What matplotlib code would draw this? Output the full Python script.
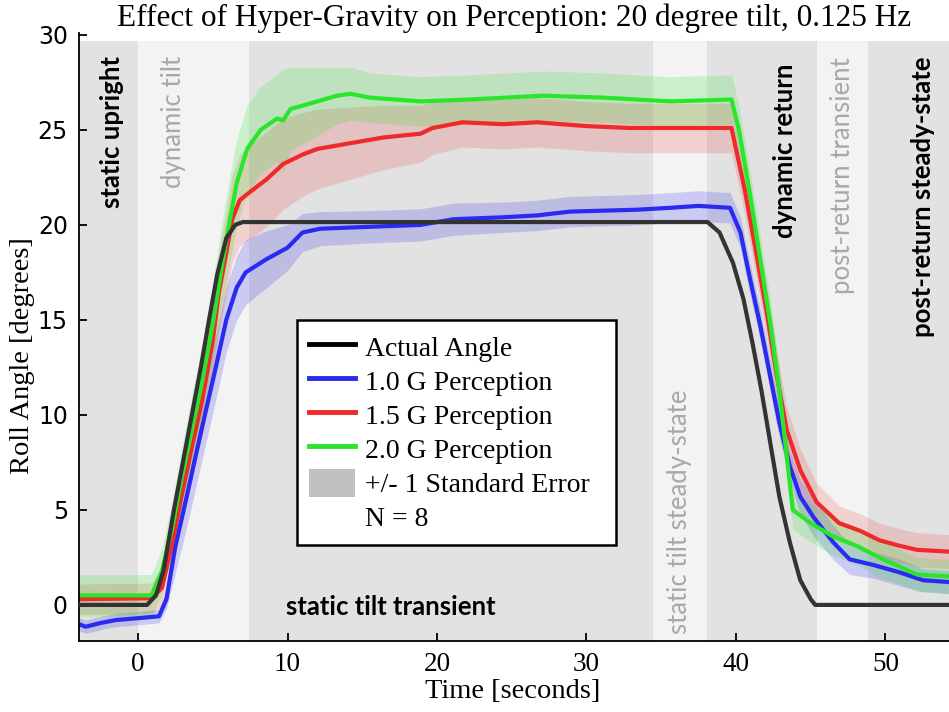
import numpy as np
from matplotlib import pyplot as plt
from matplotlib.lines import Line2D
from matplotlib.patches import Patch

# Trial phases (seconds), shading and labels
phase_edges = [-4, 0, 7.4, 34.45, 38.05, 45.4, 48.8, 55]
phase_shade = ['dark', 'light', 'dark', 'light', 'dark', 'light', 'dark']

# Actual roll angle
t_actual = [-4, 0.6, 1.2, 1.7, 2.4, 3.0, 3.6, 4.2, 4.75, 5.3, 5.9, 6.5, 7.0,
            38.1, 38.9, 39.8, 40.5, 41.1, 41.7, 42.3, 42.9, 43.6, 44.3, 45.0,
            45.3, 55]
actual = [0, 0, 0.5, 1.8, 5.0, 7.5, 10.0, 12.5, 15.0, 17.4, 19.3, 20.0, 20.15,
          20.15, 19.6, 18.0, 16.1, 13.8, 11.3, 8.5, 5.7, 3.3, 1.3, 0.3,
          0, 0]

# 1.0 G perception (mean and standard error)
t_g10 = [-4, -3.5, -2.5, -1.5, 0, 1.4, 1.9, 2.5, 3.2, 3.9, 4.5, 5.2, 5.9, 6.6,
         7.2, 8.6, 10.0, 11.0, 12.2, 15.5, 18.9, 21.1, 24.4, 26.7, 28.9, 33.4,
         35.6, 37.5, 39.6, 40.3, 40.9, 41.6, 42.3, 42.9, 43.6, 44.3, 45.2,
         46.5, 47.6, 49.2, 51.0, 52.5, 54.3]
g10 = [-1.0, -1.15, -0.95, -0.8, -0.7, -0.6, 0.3, 3.1, 5.5, 8.0, 10.1, 12.5,
       15.0, 16.7, 17.5, 18.2, 18.8, 19.6, 19.8, 19.9, 20.0, 20.3, 20.4, 20.5,
       20.7, 20.8, 20.9, 21.0, 20.9, 19.6, 17.3, 14.8, 12.0, 9.6, 7.3, 5.7,
       4.6, 3.3, 2.4, 2.1, 1.7, 1.3, 1.2]
se_g10 = [0.35, 0.35, 0.35, 0.35, 0.35, 0.35, 0.5, 1.4, 1.6, 1.7, 1.7, 1.7,
          1.7, 1.7, 1.7, 1.5, 1.2, 1.0, 0.9, 0.85, 0.85, 0.85, 0.8, 0.8,
          0.8, 0.8, 0.8, 0.8, 0.8, 0.8, 0.8, 0.8, 0.8, 0.8, 0.8, 0.9,
          1.0, 0.9, 0.8, 0.7, 0.7, 0.6, 0.6]

# 1.5 G perception
t_g15 = [-4, 0.9, 1.6, 2.3, 2.9, 3.6, 4.3, 5.0, 5.4, 5.9, 6.3, 6.8, 7.6, 8.6,
         9.7, 11.0, 12.0, 14.2, 16.4, 18.9, 19.7, 21.7, 24.4, 26.7, 30.0,
         32.9, 35.6, 39.7, 40.6, 41.4, 42.1, 42.7, 43.4, 44.3, 45.4, 46.9,
         48.3, 49.6, 51.0, 52.1, 54.3]
g15 = [0.3, 0.35, 0.9, 3.3, 5.7, 8.3, 10.8, 13.9, 16.4, 18.5, 20.3, 21.3,
       21.8, 22.4, 23.2, 23.7, 24.0, 24.3, 24.6, 24.8, 25.1, 25.4, 25.3, 25.4,
       25.2, 25.1, 25.1, 25.1, 21.8, 18.3, 15.2, 12.2, 9.2, 7.1, 5.4, 4.3,
       3.9, 3.4, 3.1, 2.9, 2.8]
se_g15 = [0.8, 0.8, 1.0, 1.3, 1.5, 1.6, 1.8, 2.0, 2.1, 2.2, 2.3, 2.4, 2.5,
          2.5, 2.4, 2.2, 2.1, 1.9, 1.7, 1.5, 1.4, 1.3, 1.3, 1.3, 1.3, 1.3,
          1.3, 1.3, 1.3, 1.3, 1.3, 1.3, 1.2, 1.1, 1.0, 0.9, 0.9, 0.9, 0.9,
          0.9, 0.9]

# 2.0 G perception
t_g20 = [-4, 0.9, 1.6, 2.3, 2.9, 3.6, 4.3, 5.0, 5.6, 6.1, 6.6, 7.3, 8.2, 9.3,
         9.7, 10.2, 12.0, 13.3, 14.2, 15.5, 18.9, 22.2, 27.1, 31.1, 35.6,
         39.7, 40.2, 40.9, 41.6, 42.3, 42.9, 43.4, 43.8, 45.0, 46.5, 48.1,
         49.8, 51.0, 52.1, 54.3]
g20 = [0.5, 0.5, 1.8, 4.1, 6.6, 9.2, 11.8, 14.8, 17.8, 20.1, 22.2, 24.0, 25.0,
       25.6, 25.5, 26.1, 26.5, 26.8, 26.9, 26.7, 26.5, 26.6, 26.8, 26.7, 26.5,
       26.6, 25.0, 21.8, 18.3, 14.8, 11.3, 7.8, 5.0, 4.3, 3.6, 3.1, 2.4, 2.0,
       1.6, 1.5]
se_g20 = [1.1, 1.1, 1.2, 1.4, 1.6, 1.8, 2.0, 2.2, 2.3, 2.3, 2.3, 2.3, 2.3,
          2.3, 2.7, 2.2, 1.8, 1.5, 1.4, 1.3, 1.3, 1.3, 1.3, 1.3, 1.3, 1.3,
          1.3, 1.3, 1.3, 1.3, 1.2, 1.1, 1.0, 1.0, 1.0, 1.0, 1.0, 0.9, 0.9,
          0.9]

x_ticks = [0, 10, 20, 30, 40, 50]
y_ticks = [0, 5, 10, 15, 20, 25, 30]

SHADE = {'dark': '#e2e2e2', 'light': '#f3f3f3'}
SANS = ['Lato', 'DejaVu Sans']
SERIF = ['Liberation Serif', 'DejaVu Serif']


def main():
    fig = plt.figure(figsize=(9.49, 7.12), dpi=100)
    ax = fig.add_axes([79 / 949, 1 - 641 / 712, 1 - 79 / 949, 608 / 712])
    ax.set_xlim(-3.95, 54.25)
    ax.set_ylim(-1.9, 30.1)

    # phase background boxes
    top = (29.7 + 1.9) / 32.0
    for x0, x1, shade in zip(phase_edges[:-1], phase_edges[1:], phase_shade):
        ax.axvspan(x0, x1, ymin=0, ymax=top, color=SHADE[shade], lw=0, zorder=0)

    # standard error bands
    for t, m, se, c, a in [(t_g10, g10, se_g10, '#2a2af0', 0.2),
                           (t_g15, g15, se_g15, '#ee2a2a', 0.17),
                           (t_g20, g20, se_g20, '#2ae62a', 0.2)]:
        m = np.array(m)
        se = np.array(se)
        ax.fill_between(t, m - se, m + se, color=c, alpha=a, lw=0, zorder=1)

    ax.plot(t_g10, g10, color='#2a2af0', lw=3, zorder=2)
    ax.plot(t_g15, g15, color='#ee2a2a', lw=3, zorder=2)
    ax.plot(t_g20, g20, color='#2ae62a', lw=3, zorder=2)
    ax.plot(t_actual, actual, color='#333333', lw=3, zorder=3)

    # phase labels
    bold = dict(family=SANS, fontsize=18.5, fontweight='bold', color='black',
                ha='center', va='center', zorder=4)
    grey = dict(family=SANS, fontsize=18.5, color='#a8a8a8',
                ha='center', va='center', zorder=4)
    ax.text(-1.75, 24.9, 'static upright', rotation=90, **bold)
    ax.text(2.35, 25.4, 'dynamic tilt', rotation=90, **grey)
    ax.text(16.9, -0.1, 'static tilt transient', **bold)
    ax.text(36.25, 4.9, 'static tilt steady-state', rotation=90, **grey)
    ax.text(43.3, 23.9, 'dynamic return', rotation=90, **bold)
    ax.text(47.1, 22.6, 'post-return transient', rotation=90, **grey)
    ax.text(52.5, 21.5, 'post-return steady-state', rotation=90, **bold)

    # axes styling
    for side in ['top', 'right']:
        ax.spines[side].set_visible(False)
    for side in ['left', 'bottom']:
        ax.spines[side].set_linewidth(1.3)
    ax.set_facecolor('white')
    ax.tick_params(direction='in', length=6, width=1.3)
    ax.set_xticks(x_ticks)
    ax.set_yticks(y_ticks)
    ax.set_xticklabels([str(v) for v in x_ticks], family=SERIF, fontsize=19.5)
    ax.set_yticklabels([str(v) for v in y_ticks], family='DejaVu Sans',
                       fontsize=17)
    ax.tick_params(axis='x', pad=8)
    ax.tick_params(axis='y', pad=8)

    ax.set_title('Effect of Hyper-Gravity on Perception: 20 degree tilt, 0.125 Hz',
                 family=SERIF, fontsize=22.5, pad=2)
    ax.set_xlabel('Time [seconds]', family=SERIF, fontsize=20.5)
    ax.set_ylabel('Roll Angle [degrees]', family=SERIF, fontsize=20.5)
    ax.xaxis.set_label_coords(0.498, -0.062)
    ax.yaxis.set_label_coords(-0.05, 0.47)

    handles = [Line2D([], [], color='black', lw=3.5),
               Line2D([], [], color='#2a2af0', lw=3.5),
               Line2D([], [], color='#ee2a2a', lw=3.5),
               Line2D([], [], color='#2ae62a', lw=3.5),
               Patch(facecolor='#c0c0c0', edgecolor='none'),
               Line2D([], [], linestyle='none')]
    labels = ['Actual Angle', '1.0 G Perception', '1.5 G Perception',
              '2.0 G Perception', '+/- 1 Standard Error  ', 'N = 8']
    leg = ax.legend(handles, labels, loc='upper left',
                    bbox_to_anchor=(10.6, 15.0), bbox_transform=ax.transData,
                    prop={'family': SERIF, 'size': 20}, frameon=True,
                    fancybox=False, framealpha=1, edgecolor='black',
                    handlelength=1.65, handleheight=1.2, handletextpad=0.35,
                    labelspacing=0.16, borderpad=0.45, borderaxespad=0)
    leg.get_frame().set_linewidth(1.8)
    leg.set_zorder(5)

    fig.savefig('out.png', dpi=100)


if __name__ == "__main__":
    main()
